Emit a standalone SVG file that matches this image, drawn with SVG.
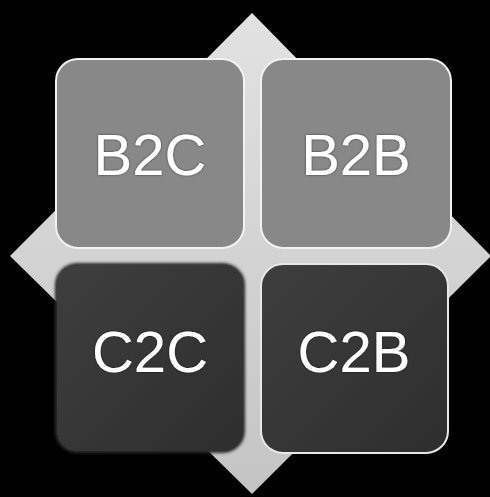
<svg xmlns="http://www.w3.org/2000/svg" width="490" height="497" viewBox="0 0 490 497">
<defs>
<linearGradient id="dia" x1="0" y1="0" x2="0" y2="1">
<stop offset="0" stop-color="#e2e2e2"/><stop offset="1" stop-color="#c4c4c4"/>
</linearGradient>
<linearGradient id="dark" x1="0" y1="0" x2="1" y2="1">
<stop offset="0" stop-color="#3e3e3e"/><stop offset="1" stop-color="#2e2e2e"/>
</linearGradient>
<filter id="blur" x="-10%" y="-10%" width="120%" height="120%"><feGaussianBlur stdDeviation="1.5"/></filter>
<filter id="ts" x="-10%" y="-10%" width="120%" height="120%"><feDropShadow dx="0" dy="0" stdDeviation="1" flood-color="#000" flood-opacity="0.6"/></filter>
</defs>
<style>
.light{fill:#888888;stroke:#f2f2f2;stroke-width:2}
.dk{fill:url(#dark);stroke:#e8e8e8;stroke-width:2}
.lbl{font-family:"Liberation Sans",Arial,sans-serif;font-size:58px;fill:#ffffff;text-anchor:middle;filter:url(#ts)}
</style>
<rect width="490" height="497" fill="#000"/>
<polygon points="252,13 491,256 252,494 10,256" fill="url(#dia)"/>
<g id="b2c">
<rect class="light" x="56" y="59" width="188" height="189" rx="22"/>
<text class="lbl" x="150" y="175">B2C</text>
</g>
<g id="b2b">
<rect class="light" x="261" y="59" width="190" height="189" rx="22"/>
<text class="lbl" x="356" y="175">B2B</text>
</g>
<g id="c2c">
<rect x="55" y="263" width="190" height="190" rx="22" fill="#2a2a2a" filter="url(#blur)"/>
<rect x="57" y="265" width="186" height="186" rx="20" fill="url(#dark)"/>
<text class="lbl" x="150" y="372">C2C</text>
</g>
<g id="c2b">
<rect class="dk" x="261" y="264" width="187" height="189" rx="22"/>
<text class="lbl" x="354" y="372">C2B</text>
</g>
<g id="connectors"/>
</svg>
